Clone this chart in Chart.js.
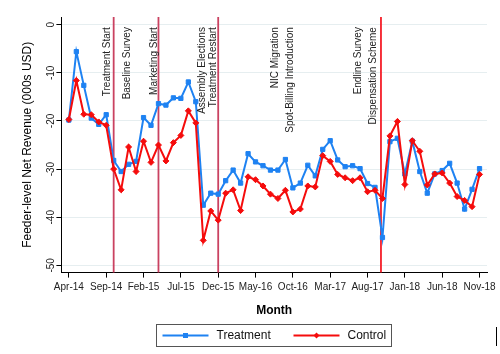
<!DOCTYPE html>
<html>
<head>
<meta charset="utf-8">
<script src="https://cdn.jsdelivr.net/npm/chart.js@4.4.1/dist/chart.umd.min.js"></script>
<style>
html, body { margin: 0; padding: 0; background: #fff; }
</style>
</head>
<body>
<canvas id="myChart" width="500" height="354"></canvas>
<script>
// data (month index 0 = Apr-14 ... 55 = Nov-18)
var tickPos = [0, 5, 10, 15, 20, 25, 30, 35, 40, 45, 50, 55];
var tickLabels = ['Apr-14', 'Sep-14', 'Feb-15', 'Jul-15', 'Dec-15', 'May-16', 'Oct-16', 'Mar-17', 'Aug-17', 'Jan-18', 'Jun-18', 'Nov-18'];
var yTicks = [-50, -40, -30, -20, -10, 0];

var treatment = [
    -19.8, -5.6, -12.6, -19.4, -20.7, -18.7, -28.2, -30.5, -29.0, -28.4,
    -19.3, -20.9, -16.4, -16.7, -15.2, -15.3, -11.9, -16.0, -37.5, -35.0,
    -35.2, -32.4, -30.2, -32.9, -26.8, -28.5, -29.3, -30.2, -30.2, -28.0,
    -33.9, -32.9, -29.2, -31.4, -25.9, -24.1, -28.1, -29.5, -29.3, -29.9,
    -33.0, -33.8, -44.2, -24.3, -23.6, -31.0, -24.2, -30.5, -35.0, -31.0,
    -30.3, -28.8, -32.9, -38.3, -34.2, -29.9
];
var control = [
    -19.7, -11.6, -18.6, -18.7, -20.2, -20.9, -30.0, -34.3, -25.4, -30.5,
    -24.2, -28.6, -25.0, -28.3, -24.5, -23.0, -17.9, -20.4, -44.8, -38.7,
    -40.6, -35.0, -34.3, -38.6, -31.6, -32.2, -33.5, -35.2, -36.1, -34.4,
    -38.9, -38.3, -33.5, -33.7, -27.2, -28.4, -31.1, -31.8, -32.4, -31.8,
    -34.7, -34.4, -36.1, -23.1, -20.1, -33.2, -24.1, -26.3, -33.3, -31.0,
    -30.8, -32.9, -35.7, -36.5, -37.8, -31.1
];

// vertical event lines and their labels
var eventLines = [6, 12, 20, 41.8];
var eventLabels = ['Treatment Start', 'Baseline Survey', 'Marketing Start', 'Assembly Elections', 'Treatment Restart',
    'NIC Migration', 'Spot-Billing Introduction', 'Endline Survey', 'Dispensation Scheme'];
var eventLabelPos = [5.1, 7.8, 11.4, 17.8, 19.4, 27.7, 29.7, 38.8, 40.8];

var FONT = "'Liberation Sans', Arial, sans-serif";
var BLUE = 'rgb(30,130,242)';
var RED = 'rgb(245,12,12)';

function toXY(arr) {
    return arr.map(function(v, i) { return { x: i, y: v }; });
}

// event lines behind the series
var eventLinesPlugin = {
    id: 'eventLines',
    beforeDatasetsDraw: function(chart) {
        var ctx = chart.ctx, a = chart.chartArea, xs = chart.scales.x;
        var colors = ['rgba(196,45,80,0.9)', 'rgba(196,45,80,0.9)', 'rgba(196,45,80,0.9)', 'rgb(245,30,40)'];
        ctx.save();
        eventLines.forEach(function(v, i) {
            var x = xs.getPixelForValue(v);
            ctx.strokeStyle = colors[i];
            ctx.lineWidth = 1.8;
            ctx.beginPath();
            ctx.moveTo(x, a.top);
            ctx.lineTo(x, a.bottom);
            ctx.stroke();
        });
        ctx.restore();
    },
    afterDatasetsDraw: function(chart) {
        var ctx = chart.ctx, xs = chart.scales.x, ys = chart.scales.y;
        ctx.save();
        ctx.font = '10px ' + FONT;
        ctx.fillStyle = '#222';
        ctx.textAlign = 'right';
        ctx.textBaseline = 'middle';
        eventLabels.forEach(function(t, i) {
            ctx.save();
            ctx.translate(xs.getPixelForValue(eventLabelPos[i]), ys.getPixelForValue(-0.5));
            ctx.rotate(-Math.PI / 2);
            ctx.fillText(t, 0, 0);
            ctx.restore();
        });
        ctx.restore();
    }
};

// boxed legend with line + marker samples
var boxLegend = {
    id: 'boxLegend',
    afterDraw: function(chart) {
        var ctx = chart.ctx, a = chart.chartArea;
        var w = 235, h = 22;
        var bx = Math.round((a.left + a.right) / 2 - w / 2) - 0.5;
        var by = 324.5;
        ctx.save();
        ctx.strokeStyle = '#555';
        ctx.lineWidth = 1;
        ctx.strokeRect(bx, by, w, h);
        var cy = by + h / 2;
        var offs = [6, 137];
        chart.data.datasets.forEach(function(ds, i) {
            var x0 = bx + offs[i];
            ctx.strokeStyle = ds.borderColor;
            ctx.lineWidth = 2;
            ctx.beginPath();
            ctx.moveTo(x0, cy);
            ctx.lineTo(x0 + 46, cy);
            ctx.stroke();
            ctx.fillStyle = ds.borderColor;
            var mx = x0 + 23;
            if (ds.pointStyle === 'rect') {
                ctx.fillRect(mx - 2.5, cy - 2.5, 5, 5);
            } else {
                ctx.beginPath();
                ctx.moveTo(mx - 3, cy);
                ctx.lineTo(mx, cy - 3);
                ctx.lineTo(mx + 3, cy);
                ctx.lineTo(mx, cy + 3);
                ctx.closePath();
                ctx.fill();
            }
            ctx.fillStyle = '#111';
            ctx.font = '12px ' + FONT;
            ctx.textAlign = 'left';
            ctx.textBaseline = 'middle';
            ctx.fillText(ds.label, x0 + 54, cy + 0.5);
        });
        // small edge mark at the right border of the original figure
        ctx.fillStyle = '#000';
        ctx.fillRect(496, 327, 1, 19);
        ctx.restore();
    }
};

new Chart(document.getElementById('myChart').getContext('2d'), {
    type: 'line',
    data: {
        datasets: [{
            label: 'Treatment',
            data: toXY(treatment),
            borderColor: BLUE,
            backgroundColor: BLUE,
            borderWidth: 2,
            pointStyle: 'rect',
            pointRadius: 3,
            pointBorderWidth: 1,
            tension: 0,
            order: 1
        }, {
            label: 'Control',
            data: toXY(control),
            borderColor: RED,
            backgroundColor: RED,
            borderWidth: 2,
            pointStyle: 'rectRot',
            pointRadius: 3,
            pointBorderWidth: 1,
            tension: 0,
            order: 0
        }]
    },
    options: {
        responsive: false,
        devicePixelRatio: 1,
        animation: false,
        layout: { padding: { left: 20, right: 13, top: 17, bottom: 32 } },
        plugins: {
            legend: { display: false },
            title: { display: false },
            tooltip: { enabled: false }
        },
        scales: {
            x: {
                type: 'linear',
                min: -1,
                max: 56,
                afterBuildTicks: function(s) {
                    s.ticks = tickPos.map(function(v) { return { value: v }; });
                },
                ticks: {
                    autoSkip: false,
                    maxRotation: 0,
                    padding: 4,
                    color: '#222',
                    font: { family: FONT, size: 10 },
                    callback: function(v, i) { return tickLabels[i]; }
                },
                grid: { drawOnChartArea: false, tickLength: 5, tickColor: '#000' },
                border: { color: '#000', width: 1 },
                title: {
                    display: true,
                    text: 'Month',
                    color: '#000',
                    font: { family: FONT, size: 12, weight: 'bold' },
                    padding: { top: 6, bottom: 4 }
                }
            },
            y: {
                min: -51.5,
                max: 1.6,
                afterBuildTicks: function(s) {
                    s.ticks = yTicks.map(function(v) { return { value: v }; });
                },
                ticks: {
                    minRotation: 90,
                    maxRotation: 90,
                    crossAlign: 'center',
                    padding: -2,
                    color: '#222',
                    font: { family: FONT, size: 10 },
                    callback: function(v) { return String(v); }
                },
                grid: { color: '#e6eef0', lineWidth: 1, tickLength: 5, tickColor: '#000' },
                border: { color: '#000', width: 1 },
                title: {
                    display: true,
                    text: 'Feeder-level Net Revenue (000s USD)',
                    color: '#000',
                    font: { family: FONT, size: 12 },
                    padding: { top: 0, bottom: 14 }
                }
            }
        }
    },
    plugins: [eventLinesPlugin, boxLegend]
});
</script>
</body>
</html>
